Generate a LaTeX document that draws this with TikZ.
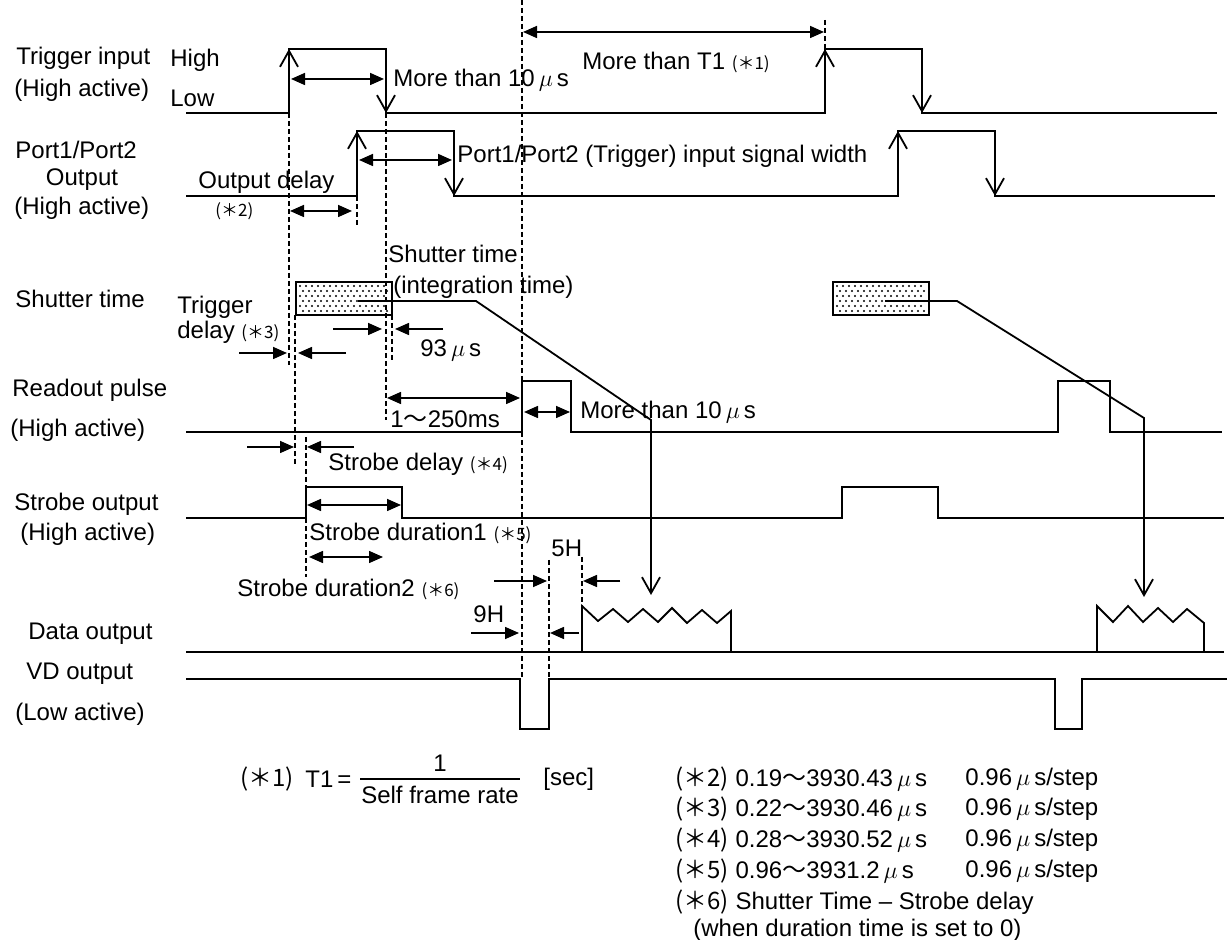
\documentclass[tikz,border=0pt]{standalone}
\usepackage{fontspec}
\setmainfont{Liberation Sans}
\newfontfamily\cjk{Noto Sans CJK JP}
\usepackage{tikz}
\usetikzlibrary{arrows.meta}
\newcommand{\mus}{\,$\mu$\,s}
\newcommand{\wv}{{\cjk ～}}
\newcommand{\nt}[1]{{\cjk\fontsize{8.5}{10}\selectfont(＊#1)}}
\newcommand{\nb}[1]{{\cjk(＊#1)}}

\begin{document}
\begin{tikzpicture}[x=0.5pt, y=-0.5pt, every node/.style={font=\fontsize{12}{14}\selectfont, inner sep=0pt, anchor=west},
  sig/.style={line width=0.9pt},
  rise/.style={line width=0.9pt, -{Straight Barb[length=8pt,width=9pt]}},
  dim/.style={line width=0.8pt, {Triangle[length=7pt,width=6pt]}-{Triangle[length=7pt,width=6pt]}},
  pointer/.style={line width=0.8pt, -{Triangle[length=7pt,width=6pt]}},
  guide/.style={line width=0.6pt, dash pattern=on 2.5pt off 1.5pt}]
  \useasboundingbox (0,0) rectangle (1231,940);
  \node (trig) at (16,58) {Trigger input};
  \node (trigsub) at (14,90) {(High active)};
  \node (high) at (170,60) {High};
  \node (low) at (170,98) {Low};
  \node (port) at (15,150) {Port1/Port2};
  \node[anchor=center] (portout) at (82,180) {Output};
  \node (portsub) at (14,208) {(High active)};
  \node (shut) at (15,299) {Shutter time};
  \node (readout) at (12,390) {Readout pulse};
  \node (readsub) at (10,430) {(High active)};
  \node (strobe) at (14,504) {Strobe output};
  \node (strobesub) at (20,534) {(High active)};
  \node (data) at (28,634) {Data output};
  \node (vd) at (26,674) {VD output};
  \node (vdsub) at (15,714) {(Low active)};

  \draw[sig] (186,113) -- (289,113) -- (289,49) -- (386,49) -- (386,113) -- (825,113) -- (825,49) -- (922,49) -- (922,113) -- (1217,113);
  \draw[sig] (186,196) -- (357,196) -- (357,131) -- (454,131) -- (454,196) -- (898,196) -- (898,131) -- (995,131) -- (995,196) -- (1215,196);
  \foreach \bx in {296,833} {
    \foreach \j in {0,...,5}
      \foreach \i in {0,...,14}
        \fill ({\bx+4+6*\i+3*mod(\j,2)},{286+5*\j}) circle (0.55pt);
    \draw[sig] (\bx,282) rectangle (\bx+96,315);
  }
  \draw[sig] (186,432) -- (522,432) -- (522,381) -- (571,381) -- (571,432) -- (1058,432) -- (1058,381) -- (1110,381) -- (1110,432) -- (1222,432);
  \draw[sig] (186,518) -- (306,518) -- (306,487) -- (402,487) -- (402,518) -- (842,518) -- (842,487) -- (938,487) -- (938,518) -- (1224,518);
  \draw[sig] (186,652) -- (1224,652);
  \draw[sig] (582,652) -- (582,606) -- (598,621) -- (613,609) -- (628,622) -- (643,609) -- (658,622) -- (672,608) -- (687,623) -- (702,610) -- (717,623) -- (731,611) -- (731,652);
  \draw[sig] (1097,652) -- (1097,606) -- (1113,622) -- (1128,606) -- (1143,622) -- (1158,608) -- (1173,622) -- (1187,609) -- (1204,623) -- (1204,652);
  \draw[sig] (186,679) -- (520,679) -- (520,729) -- (549,729) -- (549,679) -- (1055,679) -- (1055,729) -- (1082,729) -- (1082,679) -- (1227,679);

  \foreach \x/\ya/\yb in {289/80/49, 386/80/113, 825/80/49, 922/80/113, 357/160/131, 454/160/196, 898/160/131, 995/160/196}
    \draw[rise] (\x,\ya) -- (\x,\yb);
  \draw[rise] (358,301) -- (476,301) -- (651,420) -- (651,595);
  \draw[rise] (885,301) -- (957,301) -- (1144,418) -- (1144,597);

  \draw[guide] (289,113) -- (289,365);
  \draw[guide] (357,196) -- (357,225);
  \draw[guide] (386,113) -- (386,420);
  \draw[guide] (295,315) -- (295,467);
  \draw[guide] (392,315) -- (392,363);
  \draw[guide] (306,437) -- (306,487);
  \draw[guide] (306,518) -- (306,577);
  \draw[guide] (522,0) -- (522,679);
  \draw[guide] (825,20) -- (825,49);
  \draw[guide] (549,560) -- (549,679);
  \draw[guide] (582,557) -- (582,606);

  \draw[dim] (291,79) -- (384,79);
  \node (tw) at (393,80) {More than 10\mus};
  \draw[dim] (523,32) -- (824,32);
  \node (t1w) at (582,62) {More than T1 \nt{1}};
  \draw[dim] (359,160) -- (452,160);
  \node (pw) at (457,156) {Port1/Port2 (Trigger) input signal width};
  \draw[dim] (290,211) -- (352,211);
  \node (od) at (198,182) {Output delay};
  \node (odn) at (215,211) {\nt{2}};
  \node (shtxt) at (388,254) {Shutter time};
  \node (shint) at (393,287) {(integration time)};
  \node (td1) at (177,307) {Trigger};
  \node (td2) at (177,332) {delay \nt{3}};
  \draw[pointer] (239,353) -- (287,353);
  \draw[pointer] (346,353) -- (298,353);
  \draw[pointer] (333,329) -- (382,329);
  \draw[pointer] (443,329) -- (395,329);
  \node (t93) at (420,350) {93\mus};
  \draw[dim] (387,398) -- (520,398);
  \node (rd) at (390,419) {1\wv 250ms};
  \draw[dim] (524,412) -- (570,412);
  \node (rw) at (580,412) {More than 10\mus};
  \draw[pointer] (247,447) -- (294,447);
  \draw[pointer] (354,447) -- (307,447);
  \node (sd) at (328,464) {Strobe delay \nt{4}};
  \draw[dim] (307,505) -- (401,505);
  \node (sd1) at (309,533) {Strobe duration1 \nt{5}};
  \draw[dim] (309,557) -- (383,557);
  \node (sd2) at (237,589) {Strobe duration2 \nt{6}};
  \draw[pointer] (494,581) -- (547,581);
  \draw[pointer] (620,581) -- (583,581);
  \node (h5) at (551,548) {5H};
  \draw[pointer] (471,633) -- (519,633);
  \draw[pointer] (579,633) -- (550,633);
  \node (h9) at (473,614) {9H};

  \node (n1) at (240,779) {\nb{1}};
  \node (t1) at (305,779) {T1\,=};
  \draw[line width=0.7pt] (360,779) -- (520,779);
  \node[anchor=south] (num) at (440,772) {1};
  \node[anchor=north] (den) at (440,786) {Self frame rate};
  \node (sec) at (543,779) {[sec]};
  \node (n2) at (675,779) {\nb{2} 0.19\wv 3930.43\mus};
  \node (n3) at (675,809) {\nb{3} 0.22\wv 3930.46\mus};
  \node (n4) at (675,840) {\nb{4} 0.28\wv 3930.52\mus};
  \node (n5) at (675,871) {\nb{5} 0.96\wv 3931.2\mus};
  \foreach \y/\nm in {779/s2, 809/s3, 840/s4, 871/s5}
    \node (\nm) at (965,\y) {0.96\mus/step};
  \node (n6) at (675,902) {\nb{6} Shutter Time -- Strobe delay};
  \node (n6b) at (693,930) {(when duration time is set to 0)};
\end{tikzpicture}
\end{document}
